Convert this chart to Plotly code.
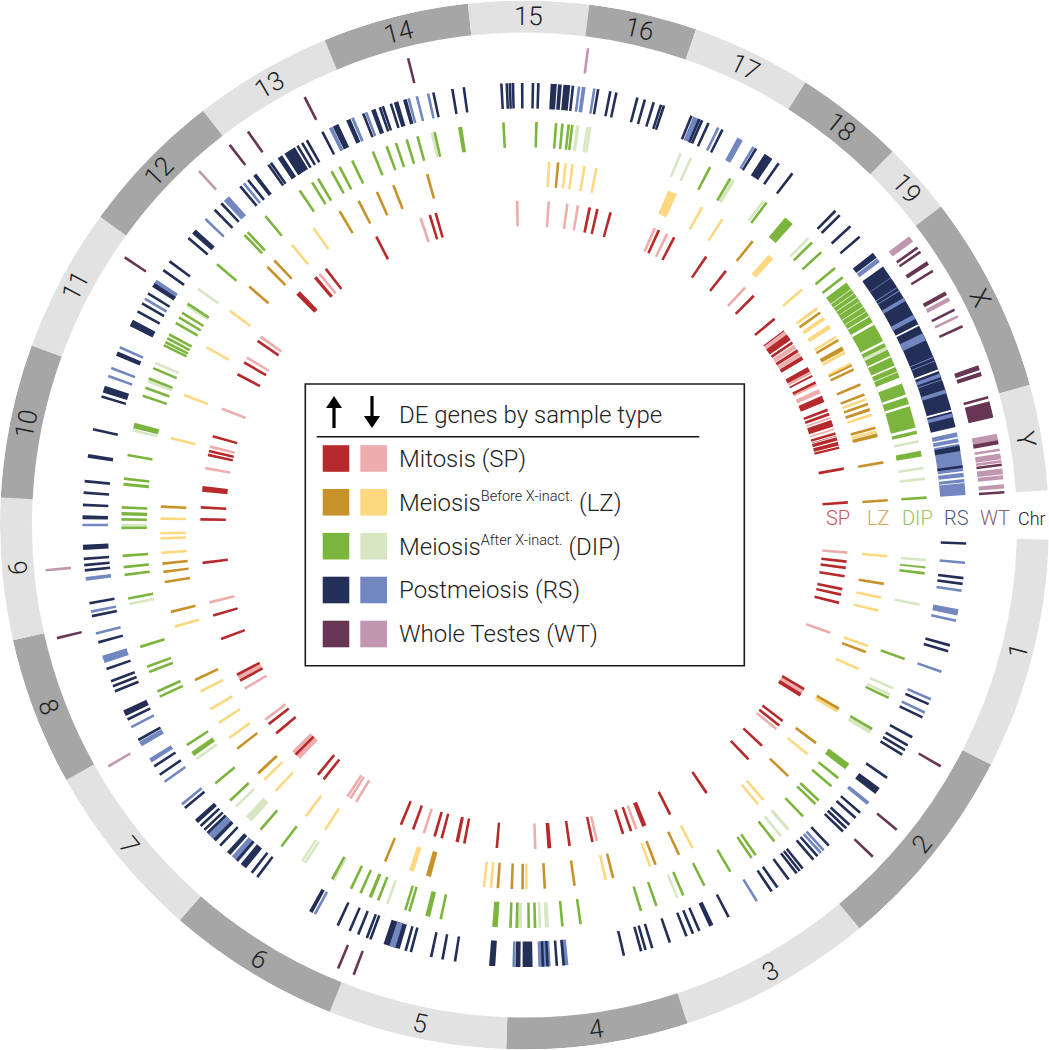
import plotly.graph_objects as go
import math

# Chromosome names and band boundaries (degrees clockwise from east)
CHR_NAMES = ["1","2","3","4","5","6","7","8","9","10","11","12","13","14","15","16","17","18","19","X","Y"]
CHR_EDGES = [1.6,27.2,50.3,71.9,92,111.8,131.1,150.9,167.3,183,200,216,232.2,247.6,263.8,277.1,289.1,302.4,314.6,322.6,344.5,356.2]

# --- SP ---
SP_UP = [6.5,7.6,9.1,11.4,12.4,13.9,30.4,37.2,38.2,42.9,46.3,55.8,63.3,70.8,72.3,77.9,82,94.9,100.7,104.8,110.1,112.4,
         128.3,129.6,134.9,140,142.1,151.3,152.5,159.4,163.8,173.3,181,183.1,192.5,193.2,195.9,207.7,210.1,214.6,232.2,
         242.8,253,254.1,281.6,283,285.4,297.5,304.1,308.4,315,320.5,333.9,339.2,343.6,356]
SP_UP_WIDE = [(31.6,.7),(68.3,.8),(85.6,.7),(102,.6),(106.1,.5),(186.4,1.0),(225.7,.9),(229.8,.6),(294.5,.5),
              (323.2,.25),(324.6,1.2),(325.75,.5),(327.4,.7),(329,.7),(331.3,.9),(332.6,.35),(337.1,1.2),(340,.5),(341.7,1.2),(345.2,2.4),(350,.5)]
SP_DOWN = [4.9,19.4,39,69.8,77.1,88.1,108.1,121.3,122.5,123.1,143.1,149.7,166.2,190.1,194,201,211.1,230.8,268.7,274.3,277.6,279.5,293.7,296.1,312.9]
SP_DOWN_WIDE = [(31,.9),(134.8,2.0),(151.8,1.0),(215.5,.5),(251.3,.5),(281.6,.5),(323.7,.7),(326.6,.8),(328.2,.7),(332,.4),(334.2,.6),(335.6,.8),(340.7,.3),(342.8,.3)]
SP_GAPS = [(325.35,.12),(327.1,.12),(338.6,.3),(344.2,.15),(345,.2),(345.9,.15)]

# --- LZ ---
LZ_UP = [9.3,20.4,30.3,36.8,43.6,64.9,68.9,75.9,82.1,86.8,90.3,92,94.2,112.5,137,142.1,154.8,166.2,171,172.6,173.9,182.9,
         220.9,225.1,226.6,239.5,242.9,246.1,248.9,254.5,275.3,308.8,324.3,329.5,334.7,337.3,339,340.6,344.5,350.1,356.1]
LZ_UP_WIDE = [(105.3,.8),(331,.7),(341.5,.5),(345.7,.6),(334,.3)]
LZ_DOWN = [4.9,11.5,13.6,19.4,23.3,39,49,50.1,62.5,69.8,77.1,95.3,96.4,123.2,126.9,133.1,135.6,144.2,147.1,149.6,152.8,
           163.8,175.6,177.9,178.7,181,193.8,200.9,209.2,216,230.3,234.6,273.9,276.5,277.6,279.5,281.4,299.2,302.9,319.7,328.9,339.8,342.4,345.1]
LZ_DOWN_WIDE = [(30.7,.6),(89.7,.4),(108.1,.8),(137,.5),(294,1.5),(312.6,1.0),(323.5,.5),(325.4,.6),(327,.7),(331.7,.5),(333.8,.6)]

# --- DIP ---
DIP_UP = [6.9,19.4,25.4,30.4,38.9,40.4,43.1,43.8,46.3,51.7,55,55.7,59.3,63.5,66.8,70.9,73.2,82,84.6,88.5,89.4,91.1,92,102,
          106.6,107.2,111.3,114,115.5,118.5,127.1,130.9,136.9,140.1,146.9,154.8,155.6,158.6,159.4,162.4,169.5,172.9,174,175.6,
          179.6,180.8,182.5,186.6,190,198.7,199.9,201.3,202.9,206.5,207,207.6,208.2,210.1,211,211.8,213.3,220.3,226,226.6,230,
          236.1,238.2,239.2,241.4,242.7,244.7,247.9,250,251.4,253,254.6,257.1,267,271.7,274.5,275.4,276.3,276.8,297.4,300.7,
          306.9,315.5,317.4,320.4,322.1,356.1]
DIP_UP_WIDE = [(6.05,.25),(36.8,1.0),(94.2,.8),(103.9,.7),(112.5,.5),(145.4,.7),(181.6,.5),(185.8,.45),(194.3,.8),(260.8,.6),(311,1.4),(346.7,.5),(349.8,.8)]
DIP_DOWN = [5,6.05,11.4,23.9,24.9,50.5,67.7,87.8,109.9,118.2,123,123.5,135.7,144.5,168.7,180,193.6,203.7,200.9,213,215.9,256.7,279,279.4,292.8,294.4,306.4,314.7,348,351.9,353.4]
DIP_DOWN_WIDE = [(30.9,.6),(49.1,.5),(86.8,.6),(90.7,.7),(133.2,1.1),(277.6,.5),(301.2,.6),(334,.5),
                 (324.2,.15),(324.9,.12),(325.6,.15),(326.3,.12),(327.2,.15),(328,.12),(337.7,.15)]
DIP_X_BLOCKS = [(323,346)]
DIP_X_GAPS = [(328.8,.15),(330,.4),(333,.35),(335.3,.25),(336.8,.25),(339,.9),(341.3,.35),(342.7,.35)]

# --- RS ---
RS_UP = [2.4,6.9,7.65,15.8,16.6,23.9,25.8,28.7,29.9,30.6,31.3,34.9,40.6,41.5,42.7,43.3,43.9,46.5,48.5,49.2,51,51.5,52,53.3,55.1,56,
         62.5,66.7,67.6,68.5,70.8,73.2,74.1,74.7,77,84.9,85.8,87,87.6,90.7,91,99.05,100.7,102.2,104.9,105.6,110.4,110.9,112.1,113.3,115,
         127.2,128.1,130.6,133.5,136.4,137.1,140.2,145.6,146.9,150.9,153.9,157.9,158.6,159.3,161,164.6,168.1,169.8,174.1,174.8,175.6,182.6,184.2,185.7,192.5,196.9,
         208.9,210.1,211.6,215.2,216.6,220.5,225.5,226.7,230,231.3,234.6,235,239.1,239.8,240.5,242.8,248.6,250.9,251.3,252.4,258.1,260.6,262.1,
         267,267.7,268.1,268.5,269.7,271.1,271.8,276.3,279.6,281.2,282,284.8,285.8,287,288,288.4,292.2,293.3,293.7,294.6,296.6,301.6,305.1,307.3,314.7,315.5,317.5,319.3,352.4]
RS_UP_WIDE = [(37,.95),(65,.6),(89.6,1.3),(94.2,.8),(118.9,.5),(129.5,.9),(132,.6),(137.9,.6),(154.8,.8),(177.1,.7),(181,.5),(189,.5),(197.9,.9),(202.8,.6),(207.2,.9),
              (212.9,.6),(221.6,.7),(232.4,.5),(236.4,.7),(237.9,1.6),(244.7,.8),(246.5,.6),(250,.6),(253.1,.6),(254.3,.5),(273.8,.8),(274.6,.5),(275.5,.9),(303.5,1.2),(322.4,.8),(350,.7)]
RS_UP_BLOCKS = [(324.2,347.2),(106.4,108.6),(134.3,136)]
RS_DOWN = [4.9,8.55,12.5,19.4,23.2,25.1,39,47.4,47.9,58.3,91.4,118.3,140.8,144.5,152.8,165.8,168.7,180,199.7,200.8,203.7,210.8,223.8,230.6,249,254.8,255.9,257.4,277.1,279.1,296,301.2]
RS_DOWN_WIDE = [(11.4,.8),(39,.5),(84.7,.8),(87.4,1.6),(107.4,.8),(130.9,1.1),(135.2,.9),(147.8,.6),(150.3,.7),(162.3,1),(173,.5),(213.4,.6),(227.6,.9),(244,.5),(247.1,.4),(277.7,.5),(293,1.1),(299.2,.8),(323.2,.6),
                (326,.1),(327.5,.12),(328,.12),(329.3,.5),(331.9,.6),(334.8,1.0),(337.7,.12),(338.2,.12),(340.2,.5),(340.8,.12),(342.4,.5),(345.6,.5),(352,8.2)]
RS_GAPS = [(333.1,.25),(339.5,.25),(345,.25),(348.6,.2),(349.3,.2),(353.1,.2),(353.9,.25),(354.5,.12)]

# --- WT ---
WT_UP = [30.1,39.3,43.6,110.8,112.8,166.4,213.8,232.2,234.9,242.8,256,324.8,325.4,328.1,333.4,335.6,344.6,352.8,356.1]
WT_UP_WIDE = [(327,.5),(331.2,.5),(340.9,.6),(341.7,.5),(346.1,2.0),(350.1,.5)]
WT_DOWN = [149.9,174.6,227.4,277.6,334.3,351,352.4]
WT_DOWN_WIDE = [(323.5,.8),(332,.5),(349.5,.9),(351.8,.7),(353.6,.7),(354.3,.5),(355.4,.5)]

# Legend entries and ring labels
RING_LABELS = ["SP","LZ","DIP","RS","WT"]
SUP = '<sup><span style="font-size:14.5px">%s</span></sup>'
LEGEND_TEXT = ["Mitosis (SP)","Meiosis"+SUP%"Before X-inact."+" (LZ)","Meiosis"+SUP%"After X-inact."+" (DIP)","Postmeiosis (RS)","Whole Testes (WT)"]

# --- styling ---
DARK = ["#b72a2c","#c8922a","#7cb53e","#232f56","#663654"]
LIGHT = ["#eeadad","#fcd981","#d8e7c3","#7286c0","#c096b0"]
LABEL_COL = ["#c9555a","#d6a55a","#92c263","#4d5a85","#84607c"]
R_IN = [299,339,378,417,456]
R_H = 25.5
FONT = "Roboto"
WEIGHT = 300
W, H = 1049, 1050
CX, CY = W/2, H/2

fig = go.Figure()

def add(theta, width, base, height, color):
    if theta:
        fig.add_trace(go.Barpolar(theta=theta, width=width, base=[base]*len(theta), r=[height]*len(theta),
                                  marker=dict(color=color, line=dict(width=0)), hoverinfo="skip", showlegend=False))

def spans(blocks):
    return [(a+b)/2 for a,b in blocks], [b-a for a,b in blocks]

# chromosome ring
cth = [(CHR_EDGES[i]+CHR_EDGES[i+1])/2 for i in range(21)]
cw = [CHR_EDGES[i+1]-CHR_EDGES[i] for i in range(21)]
ccol = ["#e2e2e2" if i%2==0 else "#a6a6a6" for i in range(21)]
fig.add_trace(go.Barpolar(theta=cth, width=cw, base=[493]*21, r=[32]*21, marker=dict(color=ccol, line=dict(width=0)),
                          hoverinfo="skip", showlegend=False))

rings = [
    (SP_UP,SP_UP_WIDE,SP_DOWN,SP_DOWN_WIDE,[],SP_GAPS),
    (LZ_UP,LZ_UP_WIDE,LZ_DOWN,LZ_DOWN_WIDE,[],[]),
    (DIP_UP,DIP_UP_WIDE,DIP_DOWN,DIP_DOWN_WIDE,DIP_X_BLOCKS,DIP_X_GAPS),
    (RS_UP,RS_UP_WIDE,RS_DOWN,RS_DOWN_WIDE,RS_UP_BLOCKS,RS_GAPS),
    (WT_UP,WT_UP_WIDE,WT_DOWN,WT_DOWN_WIDE,[],[]),
]
for i,(up,upw,dn,dnw,blocks,gaps) in enumerate(rings):
    thin = 2.6/(R_IN[i]+R_H/2)*180/math.pi
    if blocks:
        t,w = spans(blocks)
        add(t,w,R_IN[i],R_H,DARK[i])
    add(dn,[thin]*len(dn),R_IN[i],R_H,LIGHT[i])
    add([p for p,_ in dnw],[q for _,q in dnw],R_IN[i],R_H,LIGHT[i])
    add(up,[thin]*len(up),R_IN[i],R_H,DARK[i])
    add([p for p,_ in upw],[q for _,q in upw],R_IN[i],R_H,DARK[i])
    if gaps:
        add([p for p,_ in gaps],[q for _,q in gaps],R_IN[i],R_H,"#ffffff")

ann = []
# chromosome labels follow the ring
for name,th in zip(CHR_NAMES,cth):
    rot = th-90 if th<180 else th+90
    if rot>180: rot-=360
    x = CX+509*math.cos(math.radians(th)); y = CY+509*math.sin(math.radians(th))
    ann.append(dict(x=x/W,y=1-y/H,xref="paper",yref="paper",text=name,showarrow=False,textangle=rot,
                    xanchor="center",yanchor="middle",font=dict(family=FONT,weight=WEIGHT,size=26,color="#222222")))
# ring labels
for i,t in enumerate(RING_LABELS):
    r = R_IN[i]+R_H/2
    ann.append(dict(x=(CX+r+2)/W,y=1-518/H,xref="paper",yref="paper",text=t,showarrow=False,xanchor="center",yanchor="middle",
                    font=dict(family=FONT,weight=WEIGHT,size=20,color=LABEL_COL[i])))
ann.append(dict(x=1048/W,y=1-518/H,xref="paper",yref="paper",text="Chr",showarrow=False,xanchor="right",yanchor="middle",
                font=dict(family=FONT,weight=WEIGHT,size=18,color="#222222")))

shapes = []
def rect(x0,y0,x1,y1,**kw):
    shapes.append(dict(type="rect",xref="paper",yref="paper",x0=x0/W,x1=x1/W,y0=1-y0/H,y1=1-y1/H,**kw))
rect(305.3,384,744.3,665.7,line=dict(color="#1a1a1a",width=1.6),fillcolor="rgba(0,0,0,0)")
shapes.append(dict(type="line",xref="paper",yref="paper",x0=316.7/W,x1=699.3/W,y0=1-436.7/H,y1=1-436.7/H,line=dict(color="#111111",width=1.5)))
ROW_Y = [458.5,502.3,546.2,590,634]
for i,yc in enumerate(ROW_Y):
    rect(322.7,yc-13.3,349.3,yc+13.3,line=dict(width=0),fillcolor=DARK[i])
    rect(360.3,yc-13.3,387,yc+13.3,line=dict(width=0),fillcolor=LIGHT[i])
    ann.append(dict(x=397/W,y=1-yc/H,xref="paper",yref="paper",text=LEGEND_TEXT[i],showarrow=False,xanchor="left",yanchor="middle",
                    font=dict(family=FONT,weight=WEIGHT,size=24,color="#222222")))
ann.append(dict(x=397/W,y=1-415/H,xref="paper",yref="paper",text="DE genes by sample type",showarrow=False,xanchor="left",yanchor="middle",
                font=dict(family=FONT,weight=WEIGHT,size=24,color="#222222")))
# legend arrows
def px(x,y): return f"{x/W:.5f},{1-y/H:.5f}"
def arrow(x,tip,base,hy):
    shapes.append(dict(type="line",xref="paper",yref="paper",x0=x/W,x1=x/W,y0=1-hy/H,y1=1-base/H,line=dict(color="#000000",width=3.2)))
    shapes.append(dict(type="path",xref="paper",yref="paper",path=f"M{px(x,tip)} L{px(x-8,hy)} L{px(x+8,hy)} Z",fillcolor="#000000",line=dict(width=0)))
arrow(334,396,428,408)
arrow(372,428,396,416)

fig.update_layout(
    width=W,height=H,margin=dict(l=0,r=0,t=0,b=0),paper_bgcolor="white",showlegend=False,
    polar=dict(domain=dict(x=[0,1],y=[0,1]),bgcolor="white",barmode="overlay",
               angularaxis=dict(direction="clockwise",rotation=0,visible=False,thetaunit="degrees"),
               radialaxis=dict(range=[0,525],visible=False)),
    annotations=ann,shapes=shapes)
fig.write_html("out.html",config=dict(displayModeBar=False),post_script="document.body.style.margin='0';document.documentElement.style.overflow='hidden';")
